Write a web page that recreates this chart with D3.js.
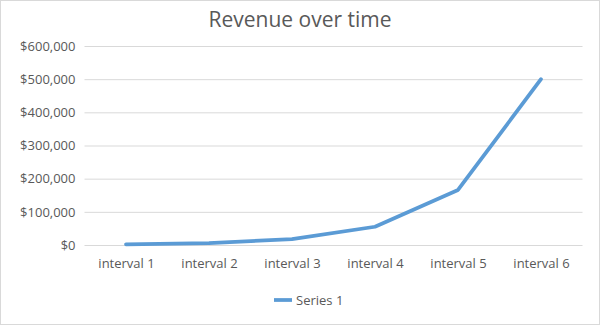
<!DOCTYPE html>
<html>
<head>
<meta charset="utf-8">
<script src="https://cdn.jsdelivr.net/npm/d3@7"></script>
<style>
  html, body { margin: 0; padding: 0; background: #fff; }
  svg { display: block; font-family: "Open Sans", "Noto Sans", sans-serif; }
</style>
</head>
<body>
<svg id="chart" width="600" height="325"></svg>
<script>
// Revenue per interval
const categories = ["interval 1", "interval 2", "interval 3", "interval 4", "interval 5", "interval 6"];
const revenue = [2000, 6000, 18000, 55000, 166000, 500000];
const yTicks = [0, 100000, 200000, 300000, 400000, 500000, 600000];
const seriesName = "Series 1";
const title = "Revenue over time";

const W = 600, H = 325;
const margin = { left: 84.5, right: 17.5, top: 46, bottom: 80 };
const svg = d3.select("#chart");

// Outer chart frame
svg.append("rect")
  .attr("x", 0.5).attr("y", 0.5)
  .attr("width", W - 1).attr("height", H - 1)
  .attr("fill", "#fff").attr("stroke", "#d9d9d9");

const x = d3.scalePoint()
  .domain(categories)
  .range([margin.left, W - margin.right])
  .padding(0.5);

const y = d3.scaleLinear()
  .domain([0, 600000])
  .range([H - margin.bottom, margin.top]);

// Title
svg.append("text")
  .attr("x", W / 2).attr("y", 27)
  .attr("text-anchor", "middle")
  .attr("fill", "#595959")
  .attr("font-size", 21)
  .text(title);

// Horizontal gridlines and y labels
const fmt = d3.format("$,");
const yAxis = d3.axisLeft(y)
  .tickValues(yTicks)
  .tickSize(-(W - margin.left - margin.right))
  .tickPadding(9)
  .tickFormat(fmt);

const gy = svg.append("g")
  .attr("transform", `translate(${margin.left},0)`)
  .call(yAxis);
gy.select(".domain").remove();
gy.selectAll(".tick line").attr("stroke", "#d9d9d9").attr("stroke-width", 1);
gy.selectAll(".tick text")
  .attr("fill", "#595959")
  .attr("font-size", 13)
  .attr("font-family", "'Open Sans', sans-serif");

// Category labels
const xAxis = d3.axisBottom(x).tickSize(0).tickPadding(14);
const gx = svg.append("g")
  .attr("transform", `translate(0,${H - margin.bottom})`)
  .call(xAxis);
gx.select(".domain").remove();
gx.selectAll(".tick text")
  .attr("fill", "#595959")
  .attr("font-size", 13)
  .attr("font-family", "'Open Sans', sans-serif");

// Revenue line
const line = d3.line()
  .x((d, i) => x(categories[i]))
  .y(d => y(d));

svg.append("path")
  .datum(revenue)
  .attr("fill", "none")
  .attr("stroke", "#5b9bd5")
  .attr("stroke-width", 3.75)
  .attr("stroke-linejoin", "round")
  .attr("stroke-linecap", "round")
  .attr("d", line);

// Legend
const lg = svg.append("g").attr("transform", "translate(274,300)");
lg.append("line")
  .attr("x1", 0).attr("x2", 18)
  .attr("y1", 0).attr("y2", 0)
  .attr("stroke", "#5b9bd5").attr("stroke-width", 3.75);
lg.append("text")
  .attr("x", 22).attr("y", 5)
  .attr("fill", "#595959")
  .attr("font-size", 13)
  .text(seriesName);
</script>
</body>
</html>
